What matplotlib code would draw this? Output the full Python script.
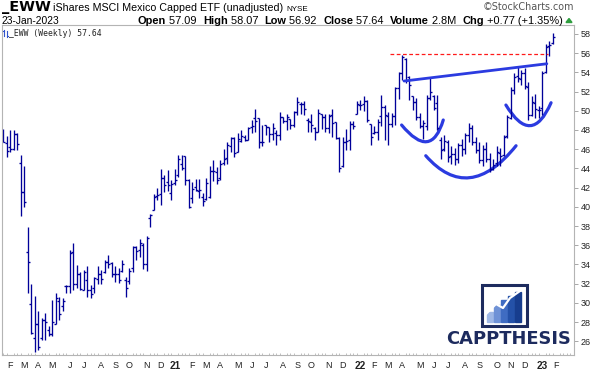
import matplotlib
matplotlib.use("Agg")
import matplotlib.pyplot as plt
import numpy as np
import pandas as pd
from matplotlib.path import Path
from matplotlib.patches import PathPatch, Rectangle
from matplotlib.lines import Line2D

W, H, DPI = 591, 373, 100

# ---------------- data (weekly OHLC, EWW) ----------------
first_week = "2020-01-24"
opens = [47.6, 46.6, 46.2, 46.0, 47.6, 44.6, 41.5, 35.3, 29.9, 26.3,
         27.8, 26.3, 28.2, 27.2, 26.7, 27.8, 30.2, 29.7, 31.8, 31.8,
         35.3, 31.95, 33.0, 31.3, 32.4, 31.3, 31.5, 32.5, 33.0, 33.2,
         34.2, 34.1, 33.0, 33.0, 33.3, 32.4, 32.3, 33.6, 35.8, 35.5,
         36.0, 34.0, 38.8, 39.7, 41.1, 41.3, 43.0, 42.6, 41.4, 42.5,
         43.3, 44.5, 45.3, 42.8, 40.9, 42.1, 41.6, 41.0, 40.8, 41.0,
         43.7, 43.6, 43.0, 44.6, 45.1, 46.3, 47.2, 45.7, 46.9, 47.3,
         47.0, 48.3, 49.2, 49.2, 46.8, 48.5, 48.3, 47.6, 47.7, 47.5,
         49.4, 48.9, 49.1, 48.5, 49.9, 50.7, 50.7, 49.0, 48.8, 48.2,
         47.8, 49.7, 49.4, 48.2, 49.6, 48.8, 47.2, 44.2, 46.7, 47.0,
         48.6, 49.7, 50.6, 50.7, 51.0, 48.6, 47.65, 47.8, 49.5, 50.4,
         49.5, 48.6, 49.5, 52.4, 53.9, 55.4, 53.5, 51.5, 50.9, 49.4,
         48.4, 48.4, 51.3, 51.5, 50.8, 47.0, 46.0, 46.8, 45.3, 45.5,
         45.0, 46.4, 46.0, 47.5, 48.2, 46.7, 45.9, 44.9, 46.0, 45.0,
         43.9, 44.6, 45.6, 45.4, 47.4, 49.3, 52.2, 53.6, 53.3, 53.9,
         52.5, 49.6, 50.8, 50.1, 50.3, 54.0, 56.7, 57.09]
highs = [48.1, 47.4, 48.0, 48.0, 47.7, 45.4, 44.2, 37.9, 32.0, 30.7,
         29.1, 28.4, 28.9, 27.6, 30.3, 31.0, 30.6, 30.5, 31.85, 35.5,
         36.2, 33.9, 33.2, 33.4, 33.8, 31.9, 32.7, 33.8, 33.4, 34.5,
         35.0, 34.2, 33.8, 33.6, 34.5, 32.7, 33.6, 35.9, 35.9, 36.6,
         36.2, 36.96, 39.25, 41.3, 41.95, 43.9, 43.3, 43.8, 42.8, 43.9,
         45.4, 45.4, 45.3, 42.9, 42.6, 42.9, 42.9, 41.4, 43.0, 44.25,
         44.9, 44.1, 44.9, 46.0, 46.8, 47.3, 47.3, 47.7, 48.0, 47.5,
         48.35, 49.04, 50.15, 49.2, 48.5, 48.5, 48.3, 48.7, 48.0, 49.9,
         49.4, 49.7, 49.1, 50.0, 51.4, 50.9, 51.0, 49.2, 49.7, 48.3,
         50.15, 49.7, 49.7, 49.7, 50.15, 48.8, 47.3, 47.3, 48.1, 48.9,
         48.97, 51.0, 51.1, 51.5, 51.1, 48.6, 48.4, 49.1, 51.6, 50.6,
         49.9, 49.8, 52.5, 54.0, 55.85, 55.5, 53.6, 51.5, 51.3, 49.8,
         49.0, 51.6, 53.4, 51.6, 51.6, 47.3, 47.5, 46.95, 46.3, 46.1,
         46.6, 47.1, 47.7, 48.7, 48.5, 47.3, 46.8, 46.4, 46.8, 45.6,
         45.0, 46.3, 46.1, 47.5, 49.6, 52.5, 53.9, 54.6, 54.2, 54.5,
         53.0, 51.5, 51.8, 50.5, 54.1, 57.0, 57.3, 58.07]
lows = [46.7, 45.2, 45.7, 45.9, 45.9, 39.0, 40.0, 31.0, 26.8, 24.9,
        25.1, 26.1, 26.1, 26.5, 26.5, 27.8, 28.2, 29.1, 31.0, 31.0,
        31.3, 31.5, 31.3, 31.3, 30.6, 30.5, 31.0, 32.0, 32.0, 33.1,
        33.6, 32.7, 32.2, 32.1, 33.2, 30.6, 32.0, 33.2, 34.5, 34.8,
        33.5, 33.3, 37.9, 39.7, 40.7, 40.2, 41.5, 41.6, 40.7, 42.3,
        43.1, 43.8, 42.3, 39.9, 40.4, 41.6, 40.9, 40.1, 40.7, 40.9,
        42.7, 42.4, 42.8, 44.4, 44.5, 45.7, 45.2, 45.7, 46.8, 46.9,
        46.96, 47.65, 47.83, 46.1, 46.3, 47.5, 46.8, 47.0, 46.4, 47.0,
        48.7, 48.0, 48.1, 48.3, 49.6, 49.7, 49.6, 47.8, 47.8, 47.0,
        47.8, 48.1, 47.8, 47.7, 47.3, 47.1, 43.6, 44.1, 45.9, 45.9,
        48.1, 49.7, 50.1, 50.0, 48.8, 46.4, 47.6, 47.0, 48.4, 47.0,
        46.4, 48.3, 48.5, 51.2, 53.2, 52.9, 51.1, 50.1, 49.0, 48.2,
        47.1, 48.0, 51.1, 50.1, 48.0, 45.0, 45.8, 44.7, 44.5, 44.4,
        44.6, 45.3, 45.5, 46.8, 46.4, 45.6, 44.6, 44.2, 44.7, 43.6,
        43.8, 44.2, 44.2, 45.3, 47.2, 49.1, 51.8, 53.0, 52.7, 52.3,
        49.0, 49.5, 49.2, 49.2, 49.6, 53.9, 55.7, 56.92]
closes = [46.8, 45.8, 46.0, 47.6, 46.5, 41.5, 40.5, 34.2, 26.9, 27.8,
          25.4, 28.2, 28.0, 26.7, 28.0, 30.5, 28.8, 30.2, 31.8, 35.2,
          32.0, 33.0, 31.4, 33.2, 31.3, 30.9, 32.6, 33.0, 32.5, 34.2,
          34.0, 33.0, 33.0, 32.4, 34.0, 31.5, 33.3, 35.8, 35.4, 36.2,
          34.0, 36.8, 39.1, 41.0, 41.2, 43.0, 42.3, 42.3, 42.4, 42.8,
          45.0, 44.0, 42.8, 40.0, 41.9, 41.7, 41.7, 40.6, 42.5, 43.7,
          43.7, 42.8, 44.5, 45.0, 46.4, 47.2, 45.6, 47.1, 47.4, 47.0,
          48.2, 48.4, 48.9, 46.8, 46.8, 48.3, 47.6, 48.2, 47.5, 49.4,
          48.9, 49.4, 48.5, 49.9, 50.9, 50.7, 50.2, 48.9, 48.5, 47.8,
          49.8, 49.4, 48.2, 49.5, 48.7, 47.2, 44.0, 46.7, 46.9, 48.6,
          48.4, 50.7, 50.6, 51.0, 49.0, 47.3, 47.8, 48.8, 50.4, 49.6,
          48.6, 49.5, 52.4, 53.9, 55.6, 53.2, 52.7, 50.9, 49.4, 48.4,
          48.7, 51.3, 52.0, 50.3, 48.2, 45.9, 46.9, 45.2, 45.5, 45.0,
          46.4, 46.0, 47.5, 48.2, 46.7, 45.9, 44.9, 46.0, 45.0, 43.9,
          44.4, 45.7, 45.3, 47.3, 49.4, 52.2, 53.5, 53.4, 53.9, 52.6,
          49.6, 50.9, 50.2, 50.1, 53.9, 56.6, 56.87, 57.64]
y_ticks = list(range(26, 60, 2))
resistance_level = 55.9

# ---------------- styles ----------------
BAR = "#000099"
ANNO = "#2b3be0"
GRAYTXT = "#222222"
FONT = "Liberation Sans"

fig = plt.figure(figsize=(W / DPI, H / DPI), dpi=DPI)
fig.patch.set_facecolor("white")
renderer = fig.canvas.get_renderer()

L, R, T, B = 2.3, 574.3, 25.3, 354.5
ax = fig.add_axes([L / W, 1 - B / H, (R - L) / W, (B - T) / H])
ax.set_xlim(-0.286, 163.14)
ax.set_ylim(24.615, 58.906)

idx = np.arange(len(opens))
ax.vlines(idx, lows, highs, color=BAR, lw=0.95)
ax.hlines(opens, idx - 0.62, idx, color=BAR, lw=0.95)
ax.hlines(closes, idx, idx + 0.62, color=BAR, lw=0.95)

# ---- annotations (hand-drawn pattern lines) ----
ax.plot([110.5, 155.6], [resistance_level, resistance_level], color="#ff1a1a",
        lw=0.9, dashes=(3, 2))
ax.plot([114.5, 155.3], [53.1, 54.9], color=ANNO, lw=2.0, solid_capstyle="round")

def bowl(p0, pm, p1):
    ctrl = (2 * pm[0] - (p0[0] + p1[0]) / 2, 2 * pm[1] - (p0[1] + p1[1]) / 2)
    path = Path([p0, ctrl, p1], [Path.MOVETO, Path.CURVE3, Path.CURVE3])
    ax.add_patch(PathPatch(path, fill=False, edgecolor=ANNO, lw=2.3,
                           capstyle="round"))

bowl((113.8, 48.52), (121.0, 46.78), (125.7, 49.04))
bowl((120.7, 45.32), (133.3, 43.03), (146.5, 46.36))
bowl((143.6, 50.6), (150.5, 48.45), (156.5, 50.84))

# ---- axes styling ----
for s in ax.spines.values():
    s.set_color("#b4b4b4")
    s.set_linewidth(0.8)
ax.yaxis.tick_right()
ax.set_yticks(y_ticks)
ax.set_yticklabels([str(v) for v in y_ticks])
ax.tick_params(axis="y", which="major", length=3, width=0.6, color="#999999",
               pad=1.5, labelsize=6.5, labelcolor=GRAYTXT)

dates = pd.date_range(first_week, periods=160, freq="W-FRI")
tpos, tlab = [], []
for i in range(1, len(dates)):
    if dates[i].month != dates[i - 1].month:
        tpos.append(i)
        m = dates[i].month
        tlab.append(str(dates[i].year)[2:] if m == 1 else "JFMAMJJASOND"[m - 1])
ax.set_xticks(tpos)
ax.set_xticklabels(tlab)
ax.set_xticks(np.arange(0, 164), minor=True)
ax.tick_params(axis="x", which="major", length=0, pad=4.5, labelsize=6.5,
               labelcolor=GRAYTXT)
ax.tick_params(axis="x", which="minor", length=1.5, width=0.6, color="#b4b4b4",
               direction="in")
for t in ax.get_xticklabels():
    if t.get_text().isdigit():
        t.set_fontweight("bold")
        t.set_fontsize(7.2)
for t in ax.get_xticklabels() + ax.get_yticklabels():
    t.set_family(FONT)

# ---------------- header texts ----------------
def fx(x):
    return x / W

def fy(y):
    return 1 - y / H

def fit(s, x0, x1, yb, weight="normal", color=GRAYTXT, family=FONT):
    t = fig.text(fx(x0), fy(yb), s, fontsize=10, fontweight=weight, color=color,
                 family=family, va="baseline", ha="left")
    w = t.get_window_extent(renderer).width
    t.set_fontsize(10 * (x1 - x0) / w)
    return t

fit("_EWW", 1.7, 50.5, 11.5, weight="bold", color="#000000", family="DejaVu Sans")
fit("iShares MSCI Mexico Capped ETF (unadjusted)", 53, 282, 11.2, color="#000000")
fig.text(fx(286), fy(11.2), "NYSE", fontsize=5.8, family=FONT, color="#000000",
         va="baseline")
fit("\u00a9StockCharts.com", 483, 574, 10.0, color="#555555",
    family="DejaVu Sans")
fit("23-Jan-2023", 1.7, 60, 23.8, color="#000000")

runs = [("Open", "bold"), (" 57.09  ", "normal"), ("High", "bold"),
        (" 58.07  ", "normal"), ("Low", "bold"), (" 56.92  ", "normal"),
        ("Close", "bold"), (" 57.64  ", "normal"), ("Volume", "bold"),
        (" 2.8M  ", "normal"), ("Chg", "bold"), (" +0.77 (+1.35%)", "normal")]
objs = []
for s, wgt in runs:
    objs.append(fig.text(0, fy(23.8), s, fontsize=7, fontweight=wgt, family=FONT,
                         color="#000000", va="baseline", ha="left"))
widths = [o.get_window_extent(renderer).width for o in objs]
scale = (563 - 138) / sum(widths)
x = 138.0
for o, w in zip(objs, widths):
    o.set_fontsize(7 * scale)
    o.set_x(fx(x))
    x += w * scale
fig.patches.append(plt.Polygon([(fx(566), fy(22.5)), (fx(572), fy(22.5)),
                                (fx(569), fy(18.5))], closed=True,
                               transform=fig.transFigure, color="#2e9e3e"))

# legend inside plot
fig.add_artist(Line2D([fx(3.5), fx(3.5)], [fy(30), fy(36)], color="#3355cc", lw=0.8))
fig.add_artist(Line2D([fx(6.5), fx(6.5)], [fy(31), fy(37)], color="#3355cc", lw=0.8))
fig.add_artist(Line2D([fx(2.5), fx(3.5)], [fy(31), fy(31)], color="#3355cc", lw=0.8))
fig.add_artist(Line2D([fx(6.5), fx(7.5)], [fy(36), fy(36)], color="#3355cc", lw=0.8))
fit("_EWW (Weekly) 57.64", 9.5, 101.5, 36.5, color="#222222",
    family="DejaVu Sans Mono")

# ---------------- logo ----------------
navy = "#1d2b5e"
bx0, by0, bx1, by1 = 482, 285, 527, 326
fig.patches.append(Rectangle((fx(bx0), fy(by1)), (bx1 - bx0) / W, (by1 - by0) / H,
                             transform=fig.transFigure, fill=False,
                             edgecolor=navy, lw=2.2))
bar_specs = [(487, 312, "#9fb8e6"), (494, 305, "#6f92d6"), (501, 300, "#3f6cc2"),
             (508, 296, "#2451a8"), (515, 292, "#173d8e")]
for xb, top, col in bar_specs:
    fig.patches.append(Rectangle((fx(xb), fy(322)), 5.5 / W, (322 - top) / H,
                                 transform=fig.transFigure, color=col))
fig.add_artist(Line2D([fx(486), fx(496), fx(503), fx(510), fx(520)],
                      [fy(314), fy(304), fy(308), fy(298), fy(291)],
                      color="white", lw=1.6))
fit("CAPPTHESIS", 446, 571, 344.5, weight="bold", color=navy, family="DejaVu Sans")

fig.savefig("out.png", dpi=DPI, facecolor="white")
